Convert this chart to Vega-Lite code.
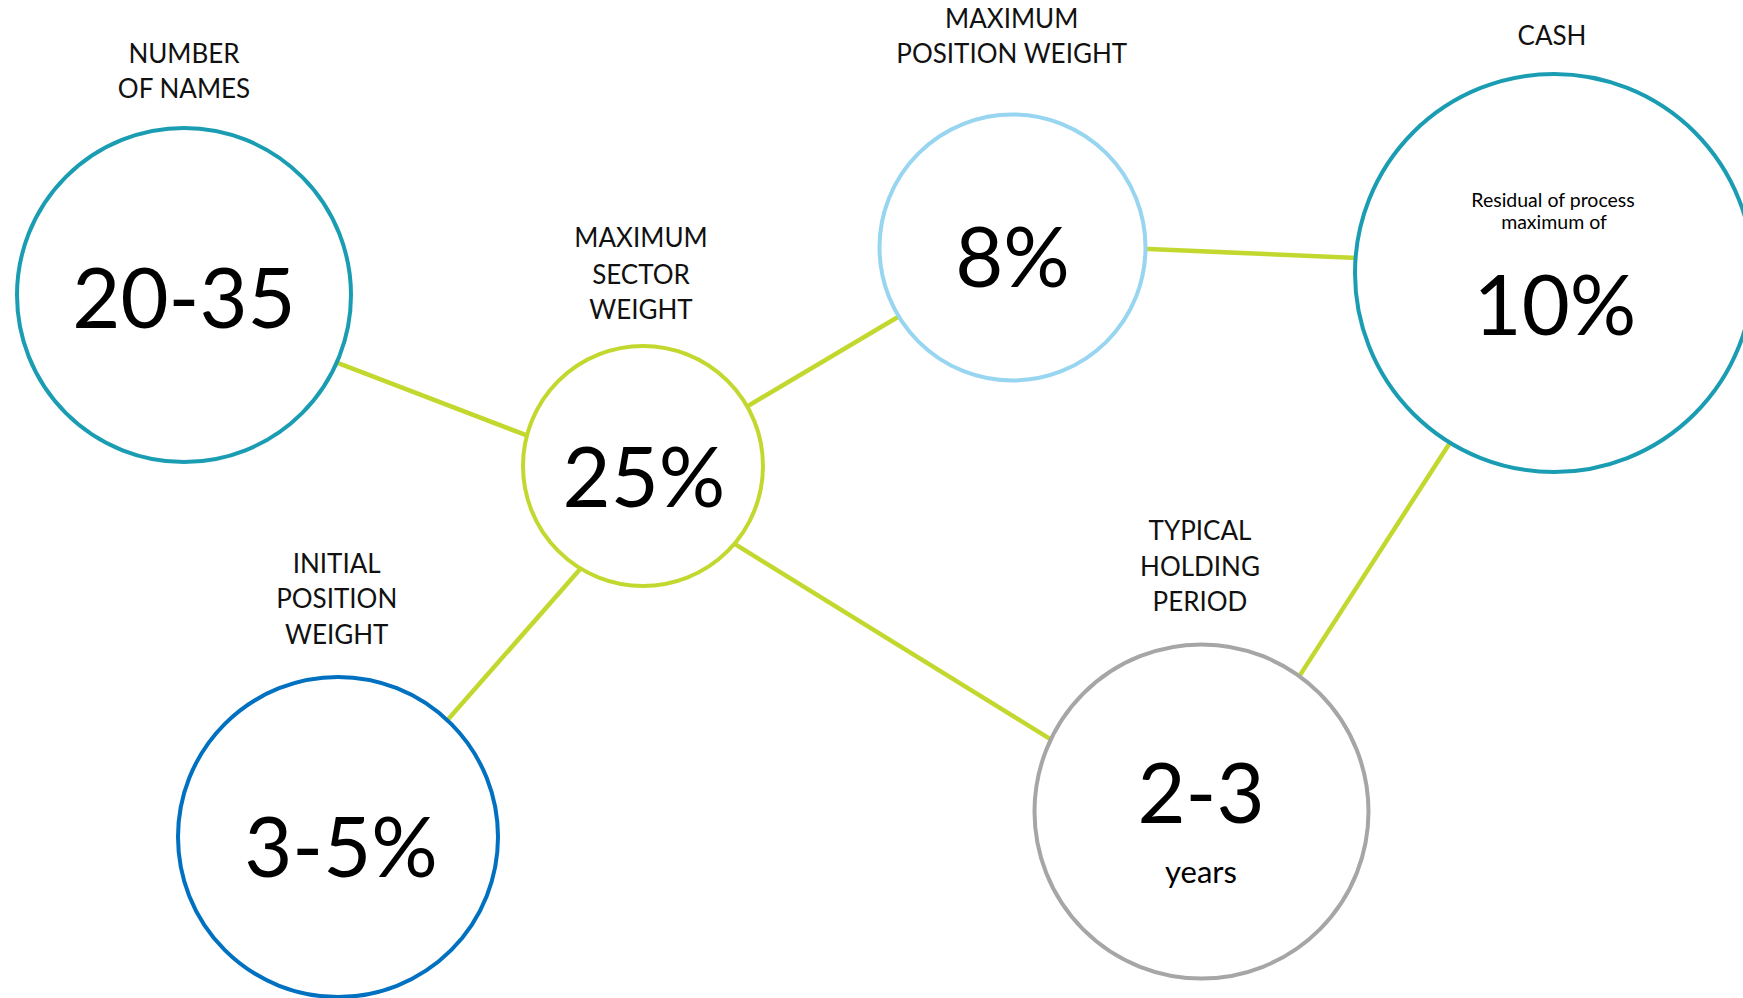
{
  "$schema": "https://vega.github.io/schema/vega-lite/v6.json",
  "width": 1743,
  "height": 998,
  "autosize": {"type": "none"},
  "padding": 0,
  "background": "white",
  "config": {"view": {"stroke": null}},
  "encoding": {
    "x": {"field": "x", "type": "quantitative", "scale": {"domain": [0, 1743]}, "axis": null},
    "y": {"field": "y", "type": "quantitative", "scale": {"domain": [0, 998], "reverse": true}, "axis": null},
    "stroke": {
      "field": "name", "type": "nominal", "legend": null,
      "scale": {
        "domain": ["Number of names", "Maximum sector weight", "Maximum position weight", "Cash", "Initial position weight", "Typical holding period"],
        "range": ["#1A9DB3", "#C3D82E", "#98D5F0", "#1A9DB3", "#0070C0", "#A6A6A6"]
      }
    }
  },
  "datasets": {
    "nodes": [
      {"name": "Number of names", "x": 184, "y": 295},
      {"name": "Maximum sector weight", "x": 643, "y": 466},
      {"name": "Maximum position weight", "x": 1012.5, "y": 247.5},
      {"name": "Cash", "x": 1554, "y": 273},
      {"name": "Initial position weight", "x": 338, "y": 837},
      {"name": "Typical holding period", "x": 1201.5, "y": 811.5}
    ],
    "links": [
      {"from": "Number of names", "to": "Maximum sector weight", "x": 329.7, "y": 359.9, "x2": 534, "y2": 438.2},
      {"from": "Maximum sector weight", "to": "Maximum position weight", "x": 741.7, "y": 409.7, "x2": 906.8, "y2": 311.7},
      {"from": "Maximum position weight", "to": "Cash", "x": 1137.2, "y": 248.6, "x2": 1364, "y2": 258.3},
      {"from": "Maximum sector weight", "to": "Initial position weight", "x": 585.7, "y": 562.8, "x2": 443.6, "y2": 724.5},
      {"from": "Maximum sector weight", "to": "Typical holding period", "x": 727.4, "y": 539.4, "x2": 1055.6, "y2": 742.3},
      {"from": "Cash", "to": "Typical holding period", "x": 1452.7, "y": 438.5, "x2": 1296.3, "y2": 680.9}
    ],
    "titles": [
      {"text": "NUMBER", "x": 184, "y": 62.7},
      {"text": "OF NAMES", "x": 184, "y": 97.7},
      {"text": "MAXIMUM", "x": 641, "y": 247.3},
      {"text": "SECTOR", "x": 641, "y": 284},
      {"text": "WEIGHT", "x": 641, "y": 319.3},
      {"text": "MAXIMUM", "x": 1011.7, "y": 28.3},
      {"text": "POSITION WEIGHT", "x": 1011.7, "y": 63.3},
      {"text": "CASH", "x": 1552, "y": 45},
      {"text": "INITIAL", "x": 336.7, "y": 573.3},
      {"text": "POSITION", "x": 336.7, "y": 608.3},
      {"text": "WEIGHT", "x": 336.7, "y": 644},
      {"text": "TYPICAL", "x": 1200, "y": 540},
      {"text": "HOLDING", "x": 1200, "y": 576},
      {"text": "PERIOD", "x": 1200, "y": 611}
    ],
    "values": [
      {"text": "20-35", "x": 184, "y": 327.7},
      {"text": "25%", "x": 644, "y": 506.7},
      {"text": "8%", "x": 1012.5, "y": 287.3},
      {"text": "10%", "x": 1555, "y": 335},
      {"text": "3-5%", "x": 341, "y": 877.3},
      {"text": "2-3", "x": 1201, "y": 822.7}
    ],
    "smallnotes": [
      {"text": "Residual of process", "x": 1553, "y": 206.7},
      {"text": "maximum of", "x": 1554, "y": 229}
    ],
    "unitnotes": [
      {"text": "years", "x": 1201, "y": 883}
    ]
  },
  "layer": [
    {
      "data": {"name": "links"},
      "mark": {"type": "rule", "color": "#C3D82E", "strokeWidth": 4.5},
      "encoding": {"x2": {"field": "x2"}, "y2": {"field": "y2"}, "stroke": {"value": "#C3D82E"}}
    },
    {
      "data": {"name": "nodes"},
      "transform": [{"filter": {"field": "name", "oneOf": ["Number of names", "Typical holding period"]}}],
      "mark": {"type": "point", "shape": "circle", "filled": true, "fill": "white", "opacity": 1, "strokeWidth": 4, "size": 111556, "clip": true}
    },
    {
      "data": {"name": "nodes"},
      "transform": [{"filter": {"field": "name", "equal": "Maximum sector weight"}}],
      "mark": {"type": "point", "shape": "circle", "filled": true, "fill": "white", "opacity": 1, "strokeWidth": 4, "size": 57600, "clip": true}
    },
    {
      "data": {"name": "nodes"},
      "transform": [{"filter": {"field": "name", "equal": "Maximum position weight"}}],
      "mark": {"type": "point", "shape": "circle", "filled": true, "fill": "white", "opacity": 1, "strokeWidth": 4, "size": 70756, "clip": true}
    },
    {
      "data": {"name": "nodes"},
      "transform": [{"filter": {"field": "name", "equal": "Cash"}}],
      "mark": {"type": "point", "shape": "circle", "filled": true, "fill": "white", "opacity": 1, "strokeWidth": 4, "size": 158404, "clip": true}
    },
    {
      "data": {"name": "nodes"},
      "transform": [{"filter": {"field": "name", "equal": "Initial position weight"}}],
      "mark": {"type": "point", "shape": "circle", "filled": true, "fill": "white", "opacity": 1, "strokeWidth": 4, "size": 102400, "clip": true}
    },
    {
      "data": {"name": "titles"},
      "mark": {"type": "text", "font": "Lato", "fontSize": 26, "fill": "#111111", "align": "center", "baseline": "alphabetic"},
      "encoding": {"text": {"field": "text"}, "stroke": {"value": null}}
    },
    {
      "data": {"name": "values"},
      "mark": {"type": "text", "font": "Lato", "fontSize": 83, "fill": "#000000", "align": "center", "baseline": "alphabetic"},
      "encoding": {"text": {"field": "text"}, "stroke": {"value": null}}
    },
    {
      "data": {"name": "smallnotes"},
      "mark": {"type": "text", "font": "Lato", "fontSize": 19.5, "fill": "#000000", "align": "center", "baseline": "alphabetic"},
      "encoding": {"text": {"field": "text"}, "stroke": {"value": null}}
    },
    {
      "data": {"name": "unitnotes"},
      "mark": {"type": "text", "font": "Lato", "fontSize": 31, "fill": "#000000", "align": "center", "baseline": "alphabetic"},
      "encoding": {"text": {"field": "text"}, "stroke": {"value": null}}
    }
  ]
}
